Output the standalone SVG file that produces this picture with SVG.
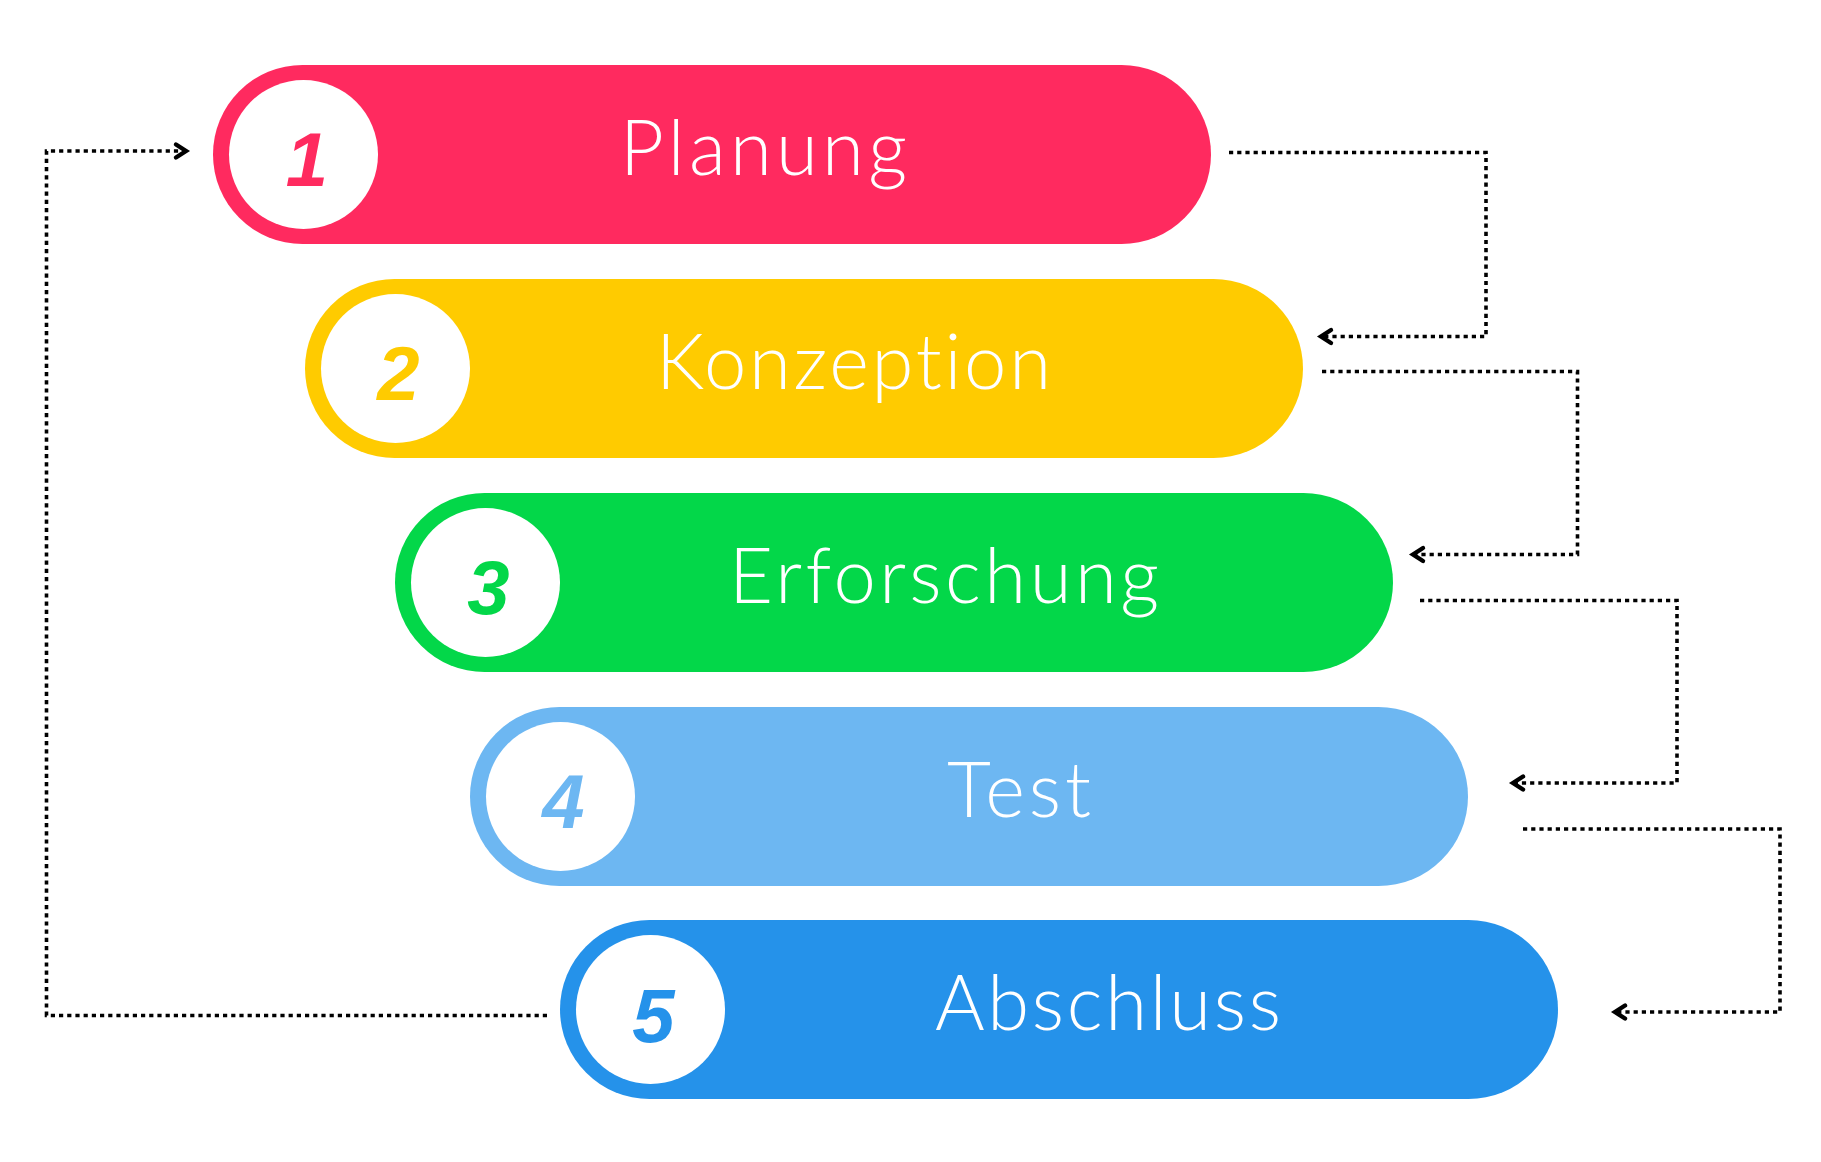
<svg xmlns="http://www.w3.org/2000/svg" width="1821" height="1162" viewBox="0 0 1821 1162">
  <style>
    .pill-c { fill: #ffffff; }
    .num { font-family: "Liberation Sans", Arial, sans-serif; font-weight: bold; font-style: italic; font-size: 76px; text-anchor: middle; }
    .lbl { font-family: Lato, "Open Sans", sans-serif; font-weight: 300; font-size: 76px; fill: #ffffff; font-variant-ligatures: none; }
    .conn { fill: none; stroke: #000000; stroke-width: 3.6; stroke-dasharray: 4.2 4; }
  </style>
  <defs>
    <marker id="chev" markerUnits="userSpaceOnUse" viewBox="-14 -9 16 18" markerWidth="16" markerHeight="18" refX="0" refY="0" orient="auto" overflow="visible">
      <path d="M-10,-6.5 L0,0 L-10,6.5" fill="none" stroke="#000000" stroke-width="4.4" stroke-linecap="round" stroke-linejoin="miter"/>
    </marker>
  </defs>
  <rect width="1821" height="1162" fill="#ffffff"/>

  <g id="node-1">
    <rect x="213" y="65" width="998" height="179" rx="89.5" fill="#FF2A5F"/>
    <circle class="pill-c" cx="303.5" cy="154.5" r="74.5"/>
    <text class="num" x="307" y="186" fill="#FF2A5F">1</text>
    <text class="lbl" x="620" y="174.5" textLength="287">Planung</text>
  </g>
  <g id="node-2">
    <rect x="305" y="279" width="998" height="179" rx="89.5" fill="#FFCB00"/>
    <circle class="pill-c" cx="395.5" cy="368.5" r="74.5"/>
    <text class="num" x="398.5" y="400" fill="#FFCB00">2</text>
    <text class="lbl" x="656" y="388.5" textLength="395">Konzeption</text>
  </g>
  <g id="node-3">
    <rect x="395" y="493" width="998" height="179" rx="89.5" fill="#03D749"/>
    <circle class="pill-c" cx="485.5" cy="582.5" r="74.5"/>
    <text class="num" x="488.5" y="614" fill="#03D749">3</text>
    <text class="lbl" x="729" y="602.5" textLength="430">Erforschung</text>
  </g>
  <g id="node-4">
    <rect x="470" y="707" width="998" height="179" rx="89.5" fill="#6DB7F2"/>
    <circle class="pill-c" cx="560.5" cy="796.5" r="74.5"/>
    <text class="num" x="563.5" y="828" fill="#6DB7F2">4</text>
    <text class="lbl" x="947" y="816.5" textLength="144">Test</text>
  </g>
  <g id="node-5">
    <rect x="560" y="920" width="998" height="179" rx="89.5" fill="#2592EA"/>
    <circle class="pill-c" cx="650.5" cy="1009.5" r="74.5"/>
    <text class="num" x="653.5" y="1042" fill="#2592EA">5</text>
    <text class="lbl" x="935" y="1029.5" textLength="346">Abschluss</text>
  </g>

  <g id="connectors">
    <path class="conn" d="M1229,152.5 H1486 V336.5 H1321" marker-end="url(#chev)"/>
    <path class="conn" d="M1322,371.5 H1577.5 V554.5 H1413" marker-end="url(#chev)"/>
    <path class="conn" d="M1420,600.5 H1677 V783 H1513" marker-end="url(#chev)"/>
    <path class="conn" d="M1523,829 H1780 V1012 H1615" marker-end="url(#chev)"/>
    <path class="conn" d="M547,1015.5 H46.5 V151 H186" marker-end="url(#chev)"/>
  </g>
</svg>
